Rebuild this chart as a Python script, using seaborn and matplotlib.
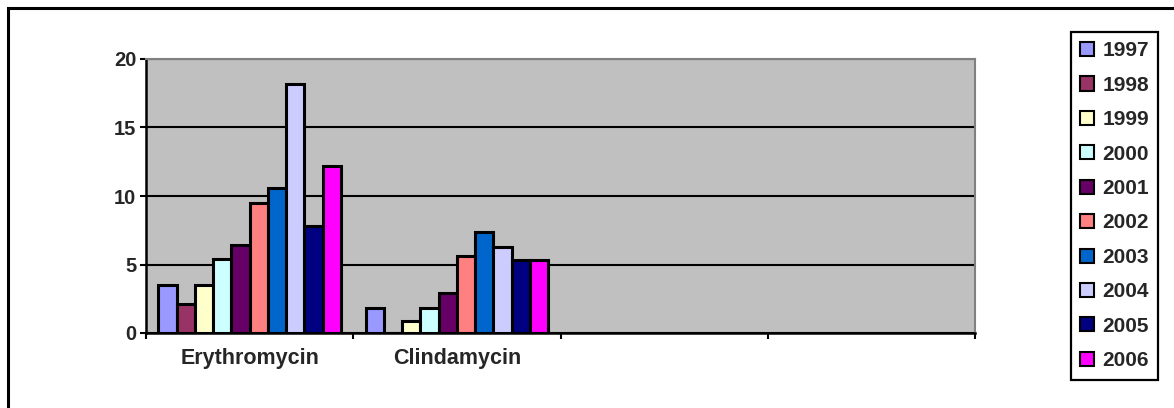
import matplotlib
matplotlib.use("Agg")
import matplotlib.pyplot as plt
from matplotlib.patches import Patch, Rectangle
import pandas as pd
import seaborn as sns

# Chart data (percent resistant)
categories = ["Erythromycin", "Clindamycin", "", " "]
years = ["1997", "1998", "1999", "2000", "2001",
         "2002", "2003", "2004", "2005", "2006"]
erythromycin = [3.5, 2.1, 3.5, 5.4, 6.4, 9.5, 10.6, 18.2, 7.8, 12.2]
clindamycin = [1.8, 0.0, 0.9, 1.8, 2.9, 5.6, 7.4, 6.3, 5.3, 5.3]
y_ticks = [0, 5, 10, 15, 20]

# Excel 2003 default series colours
colors = ["#9999FF", "#993366", "#FFFFCC", "#CCFFFF", "#660066",
          "#FF8080", "#0066CC", "#CCCCFF", "#000080", "#FF00FF"]

sns.set_style("white")
plt.rcParams["font.family"] = ["Liberation Sans", "DejaVu Sans"]
plt.rcParams["font.weight"] = "bold"
FS = 14.5

rows = []
for drug, vals in zip(categories[:2], [erythromycin, clindamycin]):
    for yr, v in zip(years, vals):
        rows.append((drug, yr, v))
df = pd.DataFrame(rows, columns=["drug", "year", "pct"])

W, H = 1174, 408
fig = plt.figure(figsize=(W / 100, H / 100), dpi=100)
ax = fig.add_axes([146 / W, 1 - 333 / H, 829 / W, 274 / H])
ax.set_facecolor("#C0C0C0")

sns.barplot(data=df, x="drug", y="pct", hue="year",
            order=categories, hue_order=years, palette=colors,
            saturation=1, width=0.88, edgecolor="black", linewidth=2.2,
            errorbar=None, legend=False, ax=ax)

ax.set_xlim(-0.5, len(categories) - 0.5)
ax.set_ylim(0, 20)
ax.set_yticks(y_ticks)
ax.set_yticklabels([str(t) for t in y_ticks], fontsize=FS, fontweight="bold")
ax.set_xlabel("")
ax.set_ylabel("")

# gridlines
ax.set_axisbelow(True)
ax.yaxis.grid(True, color="black", linewidth=1.5)
ax.xaxis.grid(False)

# category labels centered, ticks between categories
ax.set_xticks(range(len(categories)))
ax.set_xticklabels(categories, fontsize=15.5, fontweight="bold")
ax.set_xticks([i - 0.5 for i in range(len(categories) + 1)], minor=True)
ax.tick_params(axis="x", which="major", length=0, pad=10.5)
ax.tick_params(axis="x", which="minor", length=4.5, width=1.5,
               color="black", direction="out", bottom=True)
ax.tick_params(axis="y", which="major", length=4.5, width=1.5,
               color="black", direction="out", left=True, pad=2.5)

for side in ["left", "bottom"]:
    ax.spines[side].set_color("black")
    ax.spines[side].set_linewidth(1.8)
    ax.spines[side].set_zorder(3)
for side in ["top", "right"]:
    ax.spines[side].set_color("#808080")
    ax.spines[side].set_linewidth(1.5)
    ax.spines[side].set_zorder(3)

# legend
handles = [Patch(facecolor=c, edgecolor="black", linewidth=1.5) for c in colors]
leg = fig.legend(handles, years, loc="upper left",
                 bbox_to_anchor=(1071 / W, 1 - 32 / H),
                 bbox_transform=fig.transFigure, borderaxespad=0,
                 prop={"size": 15, "weight": "bold"},
                 handlelength=0.66, handleheight=0.66, handletextpad=0.4,
                 labelspacing=0.74, borderpad=0.45,
                 fancybox=False, shadow=False, framealpha=1)
leg.get_frame().set_edgecolor("black")
leg.get_frame().set_linewidth(1.6)

# chart area border (only top and left are inside the picture)
fig.patches.append(Rectangle((7.5 / W, -0.1), 1.2, 1 - 7.5 / H + 0.1,
                             transform=fig.transFigure, fill=False,
                             edgecolor="black", linewidth=2.2))

fig.savefig("out.png", dpi=100)
plt.close(fig)
